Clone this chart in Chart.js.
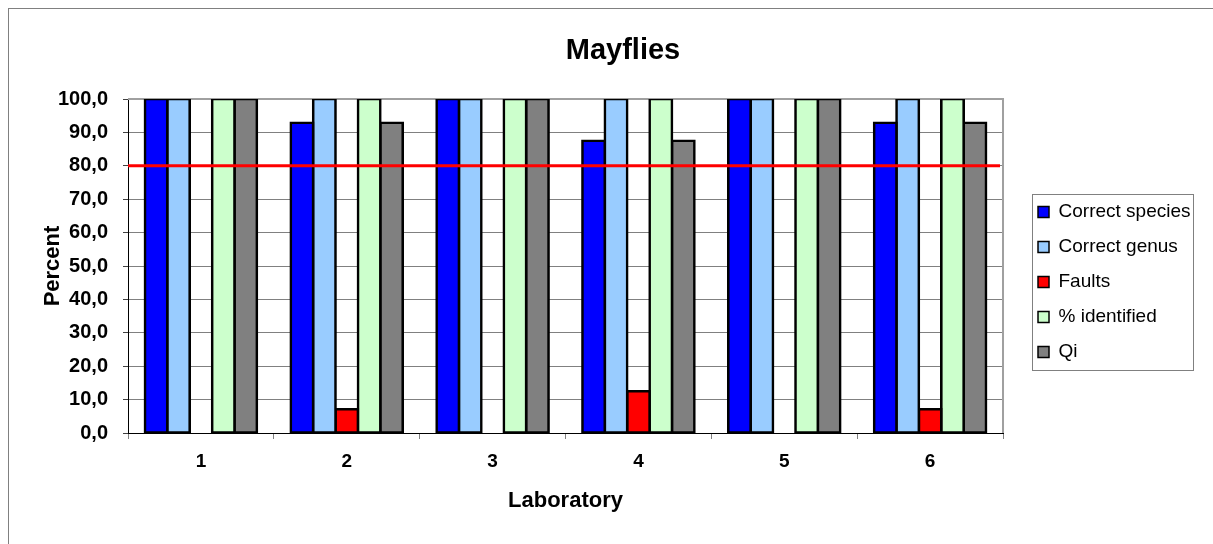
<!DOCTYPE html>
<html>
<head>
<meta charset="utf-8">
<title>Mayflies</title>
<script src="https://cdn.jsdelivr.net/npm/chart.js@4"></script>
<style>
    html, body { margin: 0; background: #fff; overflow: hidden; }
    #frame { position: absolute; left: 8px; top: 8px; width: 1230px; height: 580px; border: 1px solid #808080; }
    #wrap { position: absolute; left: 0; top: 0; width: 1213px; height: 544px; }
</style>
</head>
<body>
<div id="frame"></div>
<div id="wrap"><canvas id="mayflies-chart"></canvas></div>
<script>
const laboratories = ["1", "2", "3", "4", "5", "6"]
const correctSpecies = [100, 92.9, 100, 87.5, 100, 92.9]
const correctGenus = [100, 100, 100, 100, 100, 100]
const faults = [0, 7.1, 0, 12.5, 0, 7.1]
const identified = [100, 100, 100, 100, 100, 100]
const qi = [100, 92.9, 100, 87.5, 100, 92.9]
const percentTicks = [0, 10, 20, 30, 40, 50, 60, 70, 80, 90, 100]
const limitValue = 80

const $ = document.querySelector.bind(document)

Chart.defaults.font.family = "'Liberation Sans', Arial, sans-serif"
Chart.defaults.color = "#000"

function barSet(label, data, color) {
    return {
        label,
        data,
        backgroundColor: color,
        borderColor: "#000",
        borderWidth: 2.6,
        inflateAmount: 1.3,
        borderSkipped: false,
        barPercentage: 1,
        categoryPercentage: 0.768
    }
}

// gray plot-area edges (top / right), the 80 % limit and the box round the legend
const frames = {
    id: "frames",
    beforeDatasetsDraw(chart) {
        const { ctx, chartArea: a } = chart
        ctx.save()
        ctx.strokeStyle = "#a0a0a0"
        ctx.lineWidth = 2
        ctx.beginPath()
        ctx.moveTo(a.left, a.top)
        ctx.lineTo(a.right, a.top)
        ctx.lineTo(a.right, a.bottom)
        ctx.stroke()
        ctx.restore()
    },
    afterDatasetsDraw(chart) {
        const { ctx, chartArea: a } = chart
        const y = chart.scales.y.getPixelForValue(limitValue)
        ctx.save()
        ctx.strokeStyle = "#ff0000"
        ctx.lineWidth = 3
        ctx.beginPath()
        ctx.moveTo(a.left, y)
        ctx.lineTo(a.right - 3, y)
        ctx.stroke()
        ctx.restore()
    },
    afterDraw(chart) {
        const boxes = chart.legend.legendHitBoxes
        if (!boxes || !boxes.length) return
        const left = Math.min(...boxes.map(b => b.left)) - 6
        const right = Math.max(...boxes.map(b => b.left + b.width)) + 3
        const top = boxes[0].top - 8.5
        const last = boxes[boxes.length - 1]
        const bottom = last.top + last.height + 8
        const ctx = chart.ctx
        ctx.save()
        ctx.strokeStyle = "#808080"
        ctx.lineWidth = 1
        ctx.strokeRect(Math.round(left) + 0.5, Math.round(top) + 0.5,
            Math.round(right - left), Math.round(bottom - top))
        ctx.restore()
    }
}

new Chart($("#mayflies-chart"), {
    type: "bar",
    data: {
        labels: laboratories,
        datasets: [
            barSet("Correct species", correctSpecies, "#0000ff"),
            barSet("Correct genus", correctGenus, "#99ccff"),
            barSet("Faults", faults, "#ff0000"),
            barSet("% identified", identified, "#ccffcc"),
            barSet("Qi", qi, "#808080")
        ]
    },
    plugins: [frames],
    options: {
        responsive: true,
        maintainAspectRatio: false,
        animation: false,
        layout: {
            padding: { left: 45.5, right: 12.5, top: 20, bottom: 0 }
        },
        scales: {
            x: {
                offset: true,
                grid: {
                    display: true,
                    drawOnChartArea: false,
                    drawTicks: true,
                    tickLength: 6,
                    color: "#808080"
                },
                border: { display: true, color: "#000", width: 1 },
                ticks: {
                    padding: 11,
                    font: { size: 19, weight: "bold" }
                },
                title: {
                    display: true,
                    text: "Laboratory",
                    font: { size: 22, weight: "bold" },
                    padding: { top: 0, bottom: 30 }
                },
                afterFit: (scale) => { scale.height = 111 }
            },
            y: {
                min: 0,
                max: 100,
                grid: {
                    color: "#808080",
                    lineWidth: 1,
                    tickLength: 5,
                    tickColor: "#404040"
                },
                border: { display: true, color: "#000", width: 1 },
                afterBuildTicks: (scale) => {
                    scale.ticks = percentTicks.map(value => ({ value }))
                },
                ticks: {
                    padding: 15,
                    font: { size: 20, weight: "bold" },
                    callback: (value) => value.toFixed(1).replace(".", ",")
                },
                title: {
                    display: true,
                    text: "Percent",
                    font: { size: 22, weight: "bold" },
                    padding: { top: -6, bottom: 0 }
                },
                afterFit: (scale) => { scale.width = 82.5 }
            },
            gap: {
                type: "linear",
                position: "right",
                display: true,
                grid: { display: false },
                border: { display: false },
                ticks: { display: false },
                afterFit: (scale) => { scale.width = 19 }
            }
        },
        plugins: {
            title: {
                display: true,
                text: "Mayflies",
                font: { size: 29, weight: "bold" },
                padding: { top: 13.6, bottom: 30.6 }
            },
            legend: {
                position: "right",
                labels: {
                    boxWidth: 11,
                    boxHeight: 11,
                    padding: 16,
                    font: { size: 19 },
                    generateLabels: (chart) => Chart.defaults.plugins.legend.labels
                        .generateLabels(chart)
                        .map(item => ({ ...item, lineWidth: 1.5 }))
                }
            },
            tooltip: { enabled: false }
        }
    }
})
</script>
</body>
</html>
